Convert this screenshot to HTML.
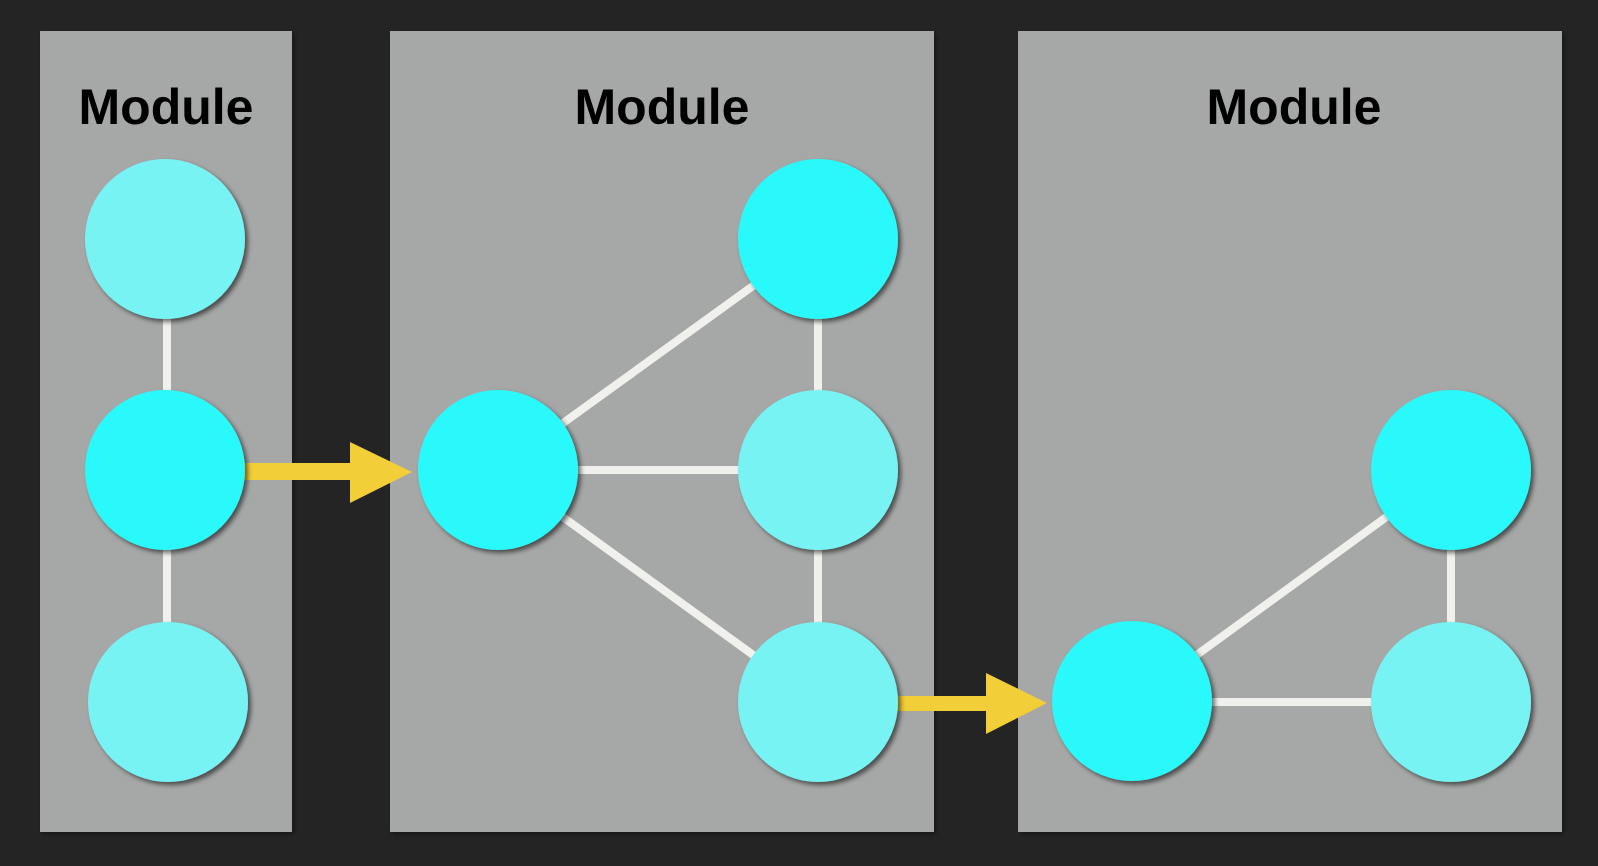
<!DOCTYPE html>
<html><head><meta charset="utf-8"><style>
html,body{margin:0;padding:0;background:#242424;width:1598px;height:866px;overflow:hidden}
svg{display:block}
text{font-family:"Liberation Sans",Arial,sans-serif;font-weight:bold;font-size:50px;fill:#000;text-anchor:middle}
</style></head><body>
<svg width="1598" height="866" viewBox="0 0 1598 866">
<defs>
<filter id="sh" x="-20%" y="-20%" width="150%" height="150%"><feDropShadow dx="3" dy="3" stdDeviation="2.5" flood-color="#000" flood-opacity="0.55"/></filter>
<filter id="ps" x="-5%" y="-5%" width="110%" height="110%"><feDropShadow dx="2" dy="2" stdDeviation="2" flood-color="#000" flood-opacity="0.4"/></filter>
</defs>
<rect x="40" y="31" width="252" height="801" fill="#a6a8a7" filter="url(#ps)"/>
<rect x="390" y="31" width="544" height="801" fill="#a6a8a7" filter="url(#ps)"/>
<rect x="1018" y="31" width="544" height="801" fill="#a6a8a7" filter="url(#ps)"/>
<text x="166" y="124">Module</text>
<text x="662" y="124">Module</text>
<text x="1294" y="124">Module</text>
<g stroke="#f0f1ec" stroke-width="8">
<line x1="167" y1="239" x2="167" y2="702"/>
<line x1="498" y1="470" x2="818" y2="239"/>
<line x1="498" y1="470" x2="818" y2="470"/>
<line x1="498" y1="470" x2="818" y2="702"/>
<line x1="818" y1="239" x2="818" y2="702"/>
<line x1="1132" y1="702" x2="1451" y2="470"/>
<line x1="1132" y1="702" x2="1451" y2="702"/>
<line x1="1451" y1="470" x2="1451" y2="702"/>
</g>
<g fill="#f2ce38">
<polygon points="240,463 350,463 350,442 412,472 350,503 350,480 240,480"/>
<polygon points="890,696 986,696 986,673 1047,703 986,734 986,711 890,711"/>
</g>
<g filter="url(#sh)">
<circle cx="165" cy="239" r="80" fill="#78f3f4"/>
<circle cx="165" cy="470" r="80" fill="#2af9fb"/>
<circle cx="168" cy="702" r="80" fill="#78f3f4"/>
<circle cx="498" cy="470" r="80" fill="#2af9fb"/>
<circle cx="818" cy="239" r="80" fill="#2af9fb"/>
<circle cx="818" cy="470" r="80" fill="#78f3f4"/>
<circle cx="818" cy="702" r="80" fill="#78f3f4"/>
<circle cx="1132" cy="701" r="80" fill="#2af9fb"/>
<circle cx="1451" cy="470" r="80" fill="#2af9fb"/>
<circle cx="1451" cy="702" r="80" fill="#78f3f4"/>
</g>
</svg>
</body></html>
